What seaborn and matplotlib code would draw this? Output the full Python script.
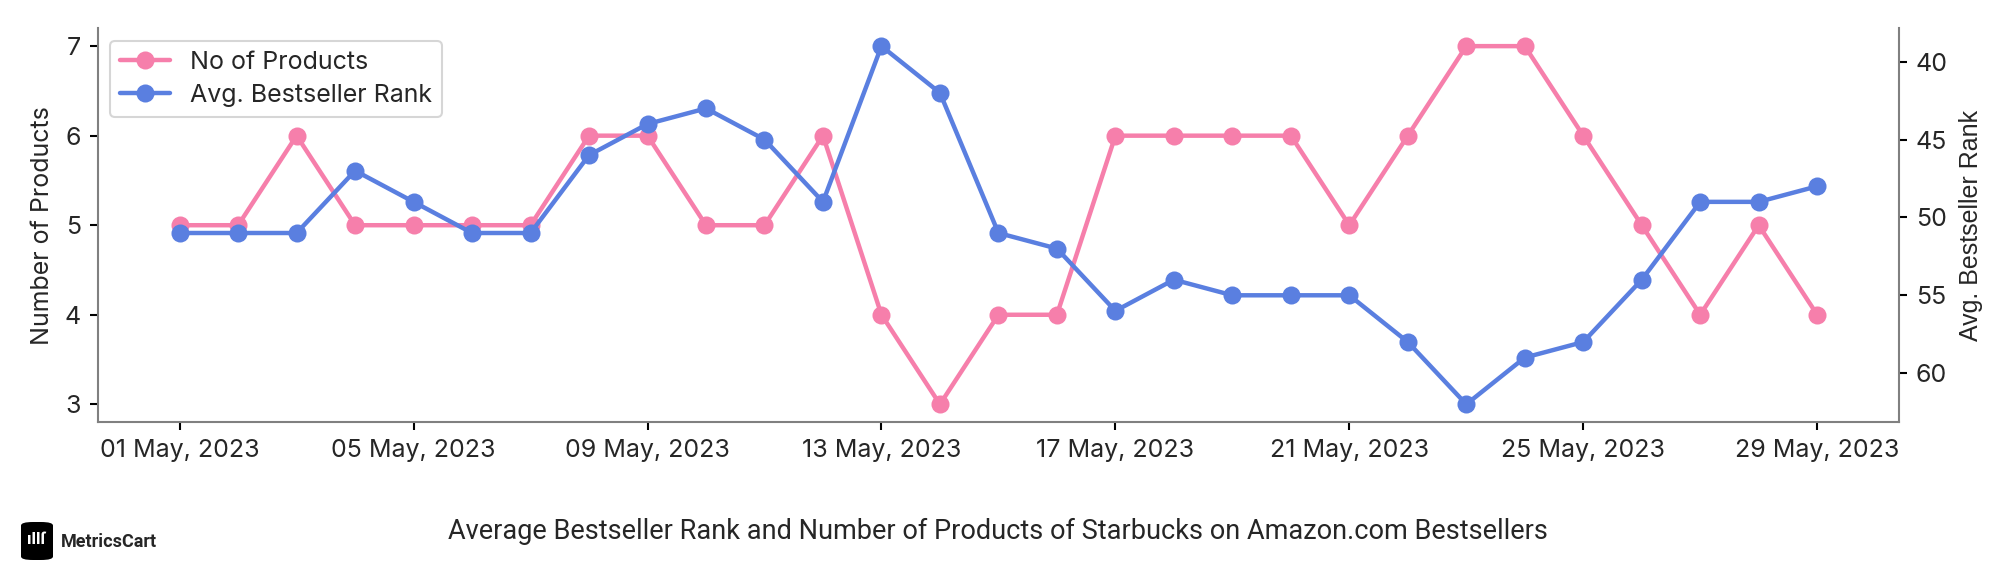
import pandas as pd
import matplotlib
matplotlib.use("Agg")
import matplotlib.pyplot as plt
import matplotlib.dates as mdates
from matplotlib.patches import FancyBboxPatch
import seaborn as sns

# Data (May 1 - May 29, 2023)
dates = pd.date_range("2023-05-01", "2023-05-29", freq="D")
num_products = [5, 5, 6, 5, 5, 5, 5, 6, 6, 5, 5, 6, 4, 3, 4, 4, 6, 6, 6, 6,
                5, 6, 7, 7, 6, 5, 4, 5, 4]
avg_rank = [51, 51, 51, 47, 49, 51, 51, 46, 44, 43, 45, 49, 39, 42, 51, 52, 56,
            54, 55, 55, 55, 58, 62, 59, 58, 54, 49, 49, 48]

df = pd.DataFrame({"Date": dates, "No of Products": num_products,
                   "Avg. Bestseller Rank": avg_rank})

sns.set_style("ticks")
plt.rcParams["font.family"] = ["Inter", "DejaVu Sans"]

pink = "#F67FAB"
blue = "#5A7FE0"

fig, ax = plt.subplots(figsize=(20.16, 5.76), dpi=100)
fig.subplots_adjust(left=0.0485, right=0.942, top=0.951, bottom=0.267)
ax2 = ax.twinx()

sns.lineplot(data=df, x="Date", y="No of Products", ax=ax, color=pink,
             marker="o", markersize=13, markeredgewidth=0, linewidth=3.2,
             label="No of Products", legend=False)
sns.lineplot(data=df, x="Date", y="Avg. Bestseller Rank", ax=ax2, color=blue,
             marker="o", markersize=13, markeredgewidth=0, linewidth=3.2,
             label="Avg. Bestseller Rank", legend=False)

ax2.invert_yaxis()
ax.set_yticks([3, 4, 5, 6, 7])
ax2.set_yticks([40, 45, 50, 55, 60])

ax.set_xticks(dates[::4])
ax.xaxis.set_major_formatter(mdates.DateFormatter("%d %b, %Y"))
ax.set_xlabel("")
ax.set_ylabel("Number of Products", fontsize=18, labelpad=8)
ax2.set_ylabel("Avg. Bestseller Rank", fontsize=18, family="Liberation Sans",
               labelpad=8)

for a in (ax, ax2):
    a.tick_params(labelsize=18, length=6, width=1.5, color="black", pad=6)
    for s in a.spines.values():
        s.set_color("#808080")
        s.set_linewidth(1.5)
    a.spines["top"].set_visible(False)
ax.spines["right"].set_visible(False)
ax2.spines["left"].set_visible(False)
ax2.spines["bottom"].set_visible(False)

h1, l1 = ax.get_legend_handles_labels()
h2, l2 = ax2.get_legend_handles_labels()
leg = ax2.legend(h1 + h2, l1 + l2, loc="upper left", fontsize=18,
                 frameon=True, fancybox=True, borderpad=0.4,
                 handlelength=2.0, labelspacing=0.4)
leg.get_frame().set_edgecolor("#CCCCCC")
leg.get_frame().set_linewidth(1.5)

fig.text(0.495, 0.078, "Average Bestseller Rank and Number of Products of "
         "Starbucks on Amazon.com Bestsellers", ha="center", va="center",
         fontsize=19.5, family="Roboto")

# MetricsCart logo
logo = FancyBboxPatch((21 / 2016, 16 / 576), 32 / 2016, 38 / 576,
                      boxstyle="round,pad=0,rounding_size=0.006",
                      transform=fig.transFigure, facecolor="black",
                      edgecolor="none")
fig.patches.append(logo)
fig.text(37 / 2016, 36 / 576, "ıllſ", color="white", ha="center",
         va="center", fontsize=12, fontweight="bold")
fig.text(61 / 2016, 34 / 576, "MetricsCart", ha="left", va="center",
         fontsize=13, fontweight="bold", family="Roboto")

plt.savefig("out.png", dpi=100)
